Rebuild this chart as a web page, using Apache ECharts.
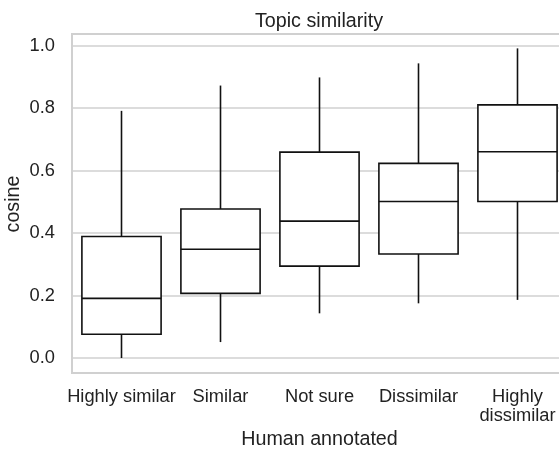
<!DOCTYPE html>
<html>
<head>
<meta charset="utf-8">
<script src="https://cdn.jsdelivr.net/npm/echarts@6/dist/echarts.min.js"></script>
<style>
  html, body { margin: 0; padding: 0; background: #fff; }
  #chart { width: 559px; height: 449px; }
</style>
</head>
<body>
<div id="chart"></div>
<script>
// Cosine similarity by human annotation group
const categories = ['Highly similar', 'Similar', 'Not sure', 'Dissimilar', 'Highly\ndissimilar'];
const whiskerLow  = [0.000, 0.051, 0.143, 0.175, 0.186];
const quartile1   = [0.076, 0.207, 0.294, 0.333, 0.501];
const medians     = [0.191, 0.348, 0.438, 0.501, 0.660];
const quartile3   = [0.389, 0.477, 0.659, 0.623, 0.810];
const whiskerHigh = [0.791, 0.872, 0.898, 0.943, 0.991];
const yTicks = [0.0, 0.2, 0.4, 0.6, 0.8, 1.0];

const FONT = '"Liberation Sans", Arial, sans-serif';
const TEXT = '#222222';
const GRID = '#d0d0d0';

const boxData = categories.map((c, i) =>
  [i, whiskerLow[i], quartile1[i], medians[i], quartile3[i], whiskerHigh[i]]);

function renderBox(params, api) {
  const i = api.value(0);
  const center = api.coord([i, medians[i]])[0];
  const band = api.size([1, 0])[0];
  const half = band * 0.8 / 2;
  const yMin = api.coord([i, api.value(1)])[1];
  const yQ1 = api.coord([i, api.value(2)])[1];
  const yMed = api.coord([i, api.value(3)])[1];
  const yQ3 = api.coord([i, api.value(4)])[1];
  const yMax = api.coord([i, api.value(5)])[1];
  const stroke = { stroke: '#111', lineWidth: 1.6, fill: null };
  return {
    type: 'group',
    children: [
      { type: 'line', shape: { x1: center, y1: yQ1, x2: center, y2: yMin }, style: stroke },
      { type: 'line', shape: { x1: center, y1: yQ3, x2: center, y2: yMax }, style: stroke },
      { type: 'rect', shape: { x: center - half, y: yQ3, width: half * 2, height: yQ1 - yQ3 },
        style: { stroke: '#111', lineWidth: 1.6, fill: '#fff' } },
      { type: 'line', shape: { x1: center - half, y1: yMed, x2: center + half, y2: yMed }, style: stroke }
    ]
  };
}

const chart = echarts.init(document.getElementById('chart'), null, { renderer: 'canvas' });
chart.setOption({
  animation: false,
  backgroundColor: '#fff',
  textStyle: { fontFamily: FONT },
  title: {
    text: 'Topic similarity',
    left: 314, top: 7, textAlign: 'center',
    textStyle: { fontFamily: FONT, fontSize: 19.7, fontWeight: 'normal', color: TEXT }
  },
  // vertical axis title
  graphic: [{
    type: 'text',
    x: 14, y: 204,
    rotation: Math.PI / 2,
    style: {
      text: 'cosine',
      font: '19.7px "Liberation Sans", Arial, sans-serif',
      fill: TEXT,
      align: 'center',
      verticalAlign: 'middle'
    }
  }],
  grid: {
    left: 72, top: 34, width: 495, height: 339,
    outerBoundsMode: 'none',
    containLabel: false,
    show: true, borderColor: GRID, borderWidth: 2, backgroundColor: 'transparent'
  },
  xAxis: {
    type: 'category',
    data: categories,
    boundaryGap: true,
    name: 'Human annotated',
    nameLocation: 'middle',
    nameGap: 56,
    nameTextStyle: { fontFamily: FONT, fontSize: 19.7, color: TEXT },
    axisLine: { show: false },
    axisTick: { show: false },
    splitLine: { show: false },
    axisLabel: {
      interval: 0, margin: 15, color: TEXT, fontFamily: FONT, fontSize: 18.3, lineHeight: 18.5
    }
  },
  yAxis: {
    type: 'value',
    min: -0.048, max: 1.037,
    axisLine: { show: false },
    axisTick: { show: false },
    splitLine: { show: false },
    axisLabel: {
      customValues: yTicks,
      margin: 17, color: TEXT, fontFamily: FONT, fontSize: 18.3,
      formatter: v => v.toFixed(1)
    }
  },
  series: [
    {
      type: 'custom',
      renderItem: renderBox,
      data: boxData,
      encode: { x: 0, y: [1, 2, 3, 4, 5] },
      silent: true,
      z: 3,
      markLine: {
        silent: true,
        symbol: 'none',
        label: { show: false },
        lineStyle: { color: GRID, width: 1.6, type: 'solid' },
        data: yTicks.map(v => ({ yAxis: v })),
        z: 1
      }
    }
  ]
});
</script>
</body>
</html>
